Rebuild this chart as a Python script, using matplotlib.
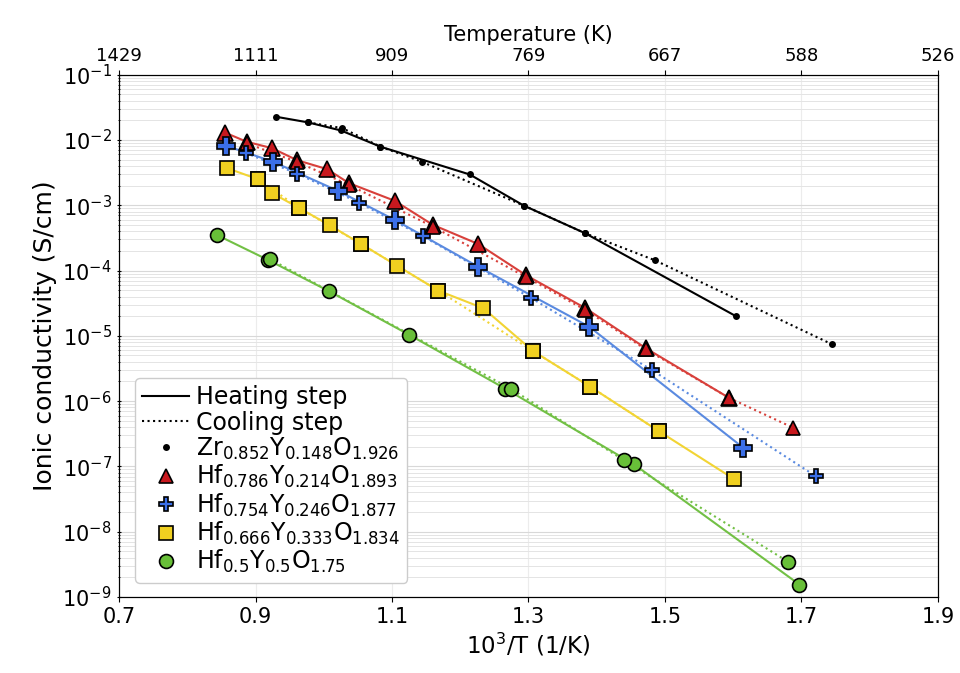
import numpy as np
import matplotlib
matplotlib.use('Agg')
import matplotlib.pyplot as plt
from matplotlib.lines import Line2D

# datos (10^3/T, conductividad S/cm)
zr_heat_x = [0.930, 0.977, 1.025, 1.083, 1.214, 1.293, 1.383, 1.604]
zr_heat_y = [2.27e-2, 1.86e-2, 1.40e-2, 7.9e-3, 2.96e-3, 9.9e-4, 3.73e-4, 2.0e-5]
zr_cool_x = [0.977, 1.027, 1.083, 1.144, 1.293, 1.383, 1.485, 1.745]
zr_cool_y = [1.86e-2, 1.52e-2, 7.9e-3, 4.63e-3, 9.9e-4, 3.73e-4, 1.44e-4, 7.4e-6]

hf786_heat_x = [0.855, 0.887, 0.924, 0.961, 1.005, 1.037, 1.104, 1.160, 1.226, 1.297, 1.383, 1.472, 1.594]
hf786_heat_y = [1.30e-2, 9.4e-3, 7.5e-3, 4.9e-3, 3.57e-3, 2.18e-3, 1.17e-3, 5.0e-4, 2.56e-4, 8.4e-5, 2.67e-5, 6.45e-6, 1.12e-6]
hf786_cool_x = [0.887, 0.961, 1.037, 1.160, 1.297, 1.383, 1.472, 1.594, 1.688]
hf786_cool_y = [8.9e-3, 4.6e-3, 2.05e-3, 4.7e-4, 7.9e-5, 2.5e-5, 6.2e-6, 1.12e-6, 3.9e-7]

hf754_heat_x = [0.857, 0.925, 1.021, 1.104, 1.226, 1.389, 1.615]
hf754_heat_y = [8.15e-3, 4.67e-3, 1.66e-3, 5.97e-4, 1.15e-4, 1.38e-5, 1.92e-7]
hf754_cool_x = [0.886, 0.961, 1.051, 1.145, 1.303, 1.481, 1.721]
hf754_cool_y = [6.3e-3, 3.06e-3, 1.10e-3, 3.36e-4, 3.84e-5, 2.99e-6, 7.08e-8]

hf666_heat_x = [0.858, 0.9035, 0.9246, 0.963, 1.0086, 1.0546, 1.1078, 1.168, 1.234, 1.3066, 1.3906, 1.4917, 1.6015]
hf666_heat_y = [3.71e-3, 2.51e-3, 1.53e-3, 9.2e-4, 4.94e-4, 2.56e-4, 1.18e-4, 4.92e-5, 2.64e-5, 5.85e-6, 1.66e-6, 3.43e-7, 6.37e-8]
hf666_cool_x = [0.9035, 0.963, 1.0546, 1.168, 1.3066, 1.3906, 1.4917]
hf666_cool_y = [2.51e-3, 9.2e-4, 2.56e-4, 4.92e-5, 5.85e-6, 1.66e-6, 3.43e-7]

hf5_heat_x = [0.844, 0.918, 1.008, 1.125, 1.266, 1.455, 1.697]
hf5_heat_y = [3.48e-4, 1.46e-4, 4.81e-5, 1.04e-5, 1.55e-6, 1.07e-7, 1.55e-9]
hf5_cool_x = [0.921, 1.274, 1.440, 1.681]
hf5_cool_y = [1.50e-4, 1.55e-6, 1.24e-7, 3.43e-9]

etiquetas = [r'Zr$_{0.852}$Y$_{0.148}$O$_{1.926}$',
             r'Hf$_{0.786}$Y$_{0.214}$O$_{1.893}$',
             r'Hf$_{0.754}$Y$_{0.246}$O$_{1.877}$',
             r'Hf$_{0.666}$Y$_{0.333}$O$_{1.834}$',
             r'Hf$_{0.5}$Y$_{0.5}$O$_{1.75}$']

x_ticks = [0.7, 0.9, 1.1, 1.3, 1.5, 1.7, 1.9]

series = [
    (zr_heat_x, zr_heat_y, zr_cool_x, zr_cool_y, 'k', 'k', 'o', 5, 5),
    (hf786_heat_x, hf786_heat_y, hf786_cool_x, hf786_cool_y, '#d8403b', '#c8181e', '^', 11, 10),
    (hf754_heat_x, hf754_heat_y, hf754_cool_x, hf754_cool_y, '#5a8ae0', '#3b6fe8', 'P', 13, 10),
    (hf666_heat_x, hf666_heat_y, hf666_cool_x, hf666_cool_y, '#f2d434', '#f0d020', 's', 10, 10),
    (hf5_heat_x, hf5_heat_y, hf5_cool_x, hf5_cool_y, '#72c045', '#68bf38', 'o', 10, 10),
]

fig = plt.figure(figsize=(9.6, 6.73), dpi=100)
ax = fig.add_axes([0.124, 0.113, 0.853, 0.776])

for hx, hy, cx, cy, lc, mc, mk, ms_h, ms_c in series:
    ax.plot(hx, hy, '-', color=lc, lw=1.5, zorder=2)
    ax.plot(cx, cy, ':', color=lc, lw=1.5, zorder=2)
    ax.plot(hx, hy, mk, ms=ms_h, mfc=mc, mec='k', mew=1.2 if ms_h > 6 else 0, zorder=3, ls='none')
    ax.plot(cx, cy, mk, ms=ms_c, mfc=mc, mec='k', mew=1.2 if ms_c > 6 else 0, zorder=3, ls='none')

ax.set_yscale('log')
ax.set_xlim(0.7, 1.9)
ax.set_ylim(1e-9, 1e-1)
ax.set_xticks(x_ticks)
ax.set_xticklabels([f'{t:.1f}' for t in x_ticks])
ax.tick_params(axis='both', labelsize=15)
ax.tick_params(axis='y', which='both', direction='inout')
ax.grid(True, which='major', axis='x', color='#ececec', lw=0.8)
ax.grid(True, which='major', axis='y', color='#d8d8d8', lw=0.8)
ax.grid(True, which='minor', axis='y', color='#e4e4e4', lw=0.7)
ax.set_axisbelow(True)
ax.set_xlabel(r'10$^3$/T (1/K)', fontsize=16.5, labelpad=3)
ax.set_ylabel('Ionic conductivity (S/cm)', fontsize=18)

# eje superior en temperatura
ax2 = ax.twiny()
ax2.set_xlim(ax.get_xlim())
ax2.set_xticks(x_ticks)
ax2.set_xticklabels([f'{1000 / t:.0f}' for t in x_ticks])
ax2.tick_params(labelsize=13)
ax2.set_xlabel('Temperature (K)', fontsize=15)

handles = [Line2D([], [], color='k', lw=1.5, ls='-'),
           Line2D([], [], color='k', lw=1.5, ls=':')]
for s in series:
    handles.append(Line2D([], [], ls='none', marker=s[6], ms=s[8] if s[8] > 6 else 5,
                          mfc=s[5], mec='k', mew=1.2 if s[5] != 'k' else 0))
ax.legend(handles, ['Heating step', 'Cooling step'] + etiquetas, loc='lower left',
          fontsize=17, handlelength=2.0, handletextpad=0.3, labelspacing=0.05,
          borderpad=0.3, framealpha=1, edgecolor='#cccccc', bbox_to_anchor=(0.005, 0.005))

fig.savefig('out.png', dpi=100)
